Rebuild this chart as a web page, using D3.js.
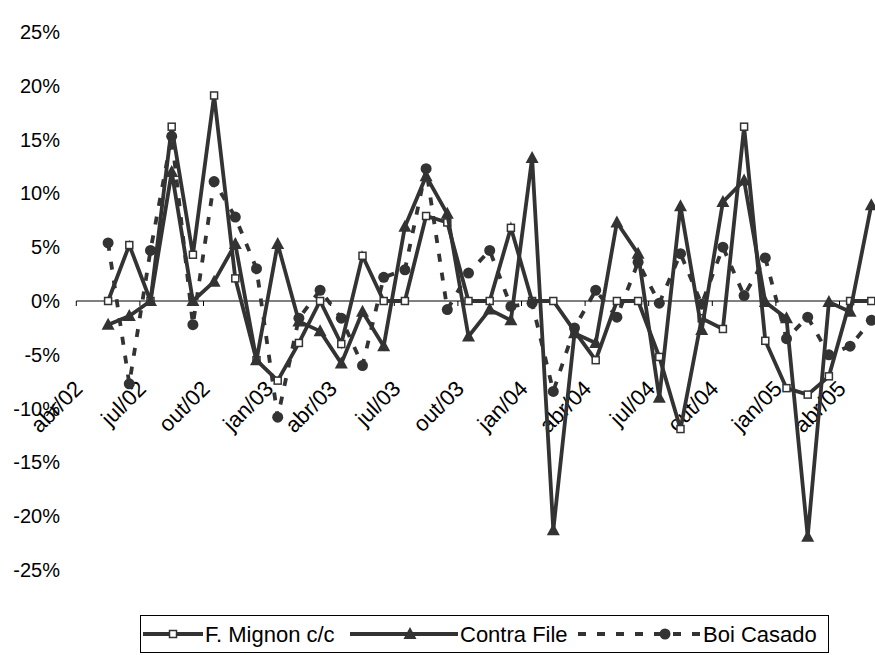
<!DOCTYPE html>
<html>
<head>
<meta charset="utf-8">
<script src="https://cdn.jsdelivr.net/npm/d3@7"></script>
<style>
  html, body { margin: 0; padding: 0; background: #fff; }
  svg { display: block; }
  text { font-family: "Liberation Sans", Arial, sans-serif; fill: #000; }
</style>
</head>
<body>
<svg id="chart" width="875" height="655"></svg>
<script>
// Monthly categories (first month has no variation yet)
const months = ["abr/02","mai/02","jun/02","jul/02","ago/02","set/02","out/02","nov/02","dez/02",
  "jan/03","fev/03","mar/03","abr/03","mai/03","jun/03","jul/03","ago/03","set/03","out/03","nov/03","dez/03",
  "jan/04","fev/04","mar/04","abr/04","mai/04","jun/04","jul/04","ago/04","set/04","out/04","nov/04","dez/04",
  "jan/05","fev/05","mar/05","abr/05","mai/05"];

// Monthly % variation per cut
const fMignon = [null, 0, 5.2, 0, 16.2, 4.3, 19.1, 2.1, -5.5, -7.4, -3.9, 0, -4.0, 4.2, 0, 0, 7.9, 7.3, 0, 0,
  6.8, 0, 0, -2.8, -5.5, 0, 0, -5.2, -11.9, -1.6, -2.6, 16.2, -3.7, -8.1, -8.7, -7.0, 0, 0];
const contraFile = [null, -2.2, -1.4, 0, 12.0, 0, 1.8, 5.3, -5.5, 5.3, -1.9, -2.8, -5.8, -1.0, -4.2, 6.9, 11.6, 8.1, -3.3, -0.8,
  -1.8, 13.3, -21.3, -3.0, -3.9, 7.3, 4.4, -9.0, 8.8, -2.7, 9.2, 11.2, -0.1, -1.6, -21.9, -0.1, -1.0, 8.9];
const boiCasado = [null, 5.4, -7.7, 4.7, 15.3, -2.2, 11.1, 7.8, 3.0, -10.8, -1.6, 1.0, -1.6, -6.0, 2.2, 2.9, 12.3, -0.8, 2.6, 4.7,
  -0.5, -0.2, -8.4, -2.5, 1.0, -1.5, 3.6, -0.2, 4.4, -0.3, 5.0, 0.5, 4.0, -3.5, -1.5, -5.0, -4.2, -1.8];

const yTicks = [25, 20, 15, 10, 5, 0, -5, -10, -15, -20, -25];
const seriesNames = ["F. Mignon c/c", "Contra File", "Boi Casado"];

const ink = "#333333";
const dashPattern = "8,11";
const svg = d3.select("#chart");

const x = d3.scaleBand().domain(months).range([76.3, 76.3 + 21.2 * months.length]);
const y = d3.scaleLinear().domain([-25, 25]).range([570, 32]);
const cx = m => x(m) + x.bandwidth() / 2;

// Y tick labels (no axis line, no gridlines)
const yAxis = d3.axisLeft(y).tickValues(yTicks).tickSize(0).tickPadding(0)
  .tickFormat(d => d + "%");
const gy = svg.append("g").attr("transform", "translate(60,0)").call(yAxis);
gy.select(".domain").remove();
gy.selectAll("text").attr("font-size", 20).attr("font-family", "Liberation Sans, Arial, sans-serif")
  .attr("fill", "#000");

// Category axis crossing at 0%
const x0 = y(0);
svg.append("line").attr("x1", x.range()[0]).attr("x2", x.range()[1])
  .attr("y1", x0).attr("y2", x0).attr("stroke", "#000").attr("stroke-width", 1);
const tickMonths = months.filter((m, i) => i % 3 === 0);
svg.append("g").selectAll("line").data(tickMonths).join("line")
  .attr("x1", d => x(d)).attr("x2", d => x(d))
  .attr("y1", x0).attr("y2", x0 + 5).attr("stroke", "#000").attr("stroke-width", 1);
svg.append("g").selectAll("text").data(tickMonths).join("text")
  .attr("transform", d => `translate(${cx(d) - 3},${x0 + 89}) rotate(-45)`)
  .attr("text-anchor", "end").attr("font-size", 22)
  .text(d => d);

// Series
const series = [
  { name: seriesNames[0], values: fMignon, dash: null, marker: "square" },
  { name: seriesNames[1], values: contraFile, dash: null, marker: "triangle" },
  { name: seriesNames[2], values: boiCasado, dash: dashPattern, marker: "circle" }
];

const line = d3.line().defined(d => d.v !== null).x(d => cx(d.m)).y(d => y(d.v));

function drawMarker(g, type, px, py) {
  if (type === "square") {
    g.append("rect").attr("x", px - 3.5).attr("y", py - 3.5).attr("width", 7).attr("height", 7)
      .attr("fill", "#fff").attr("stroke", ink).attr("stroke-width", 1.5);
  } else if (type === "triangle") {
    g.append("path").attr("d", `M${px},${py - 7}L${px + 6.5},${py + 5}L${px - 6.5},${py + 5}Z`)
      .attr("fill", ink);
  } else {
    g.append("circle").attr("cx", px).attr("cy", py).attr("r", 5.5).attr("fill", ink);
  }
}

series.forEach(s => {
  const pts = months.map((m, i) => ({ m, v: s.values[i] }));
  const g = svg.append("g");
  g.append("path").datum(pts).attr("d", line).attr("fill", "none")
    .attr("stroke", ink).attr("stroke-width", 3.8)
    .attr("stroke-dasharray", s.dash).attr("stroke-linejoin", "miter");
  pts.filter(p => p.v !== null).forEach(p => drawMarker(g, s.marker, cx(p.m), y(p.v)));
});

// Legend
const lg = svg.append("g");
lg.append("rect").attr("x", 140.5).attr("y", 615.5).attr("width", 688).attr("height", 37)
  .attr("fill", "#fff").attr("stroke", "#000").attr("stroke-width", 1);
const legendItems = [
  { x1: 143, x2: 203, mx: 173, tx: 205 },
  { x1: 350, x2: 458, mx: 410, tx: 460 },
  { x1: 578, x2: 700, mx: 665, tx: 703 }
];
series.forEach((s, i) => {
  const it = legendItems[i], ly = 634;
  lg.append("line").attr("x1", it.x1).attr("x2", it.x2).attr("y1", ly).attr("y2", ly)
    .attr("stroke", ink).attr("stroke-width", 3.8).attr("stroke-dasharray", s.dash);
  drawMarker(lg, s.marker, it.mx, ly);
  lg.append("text").attr("x", it.tx).attr("y", ly + 8).attr("font-size", 22).text(s.name);
});
</script>
</body>
</html>
